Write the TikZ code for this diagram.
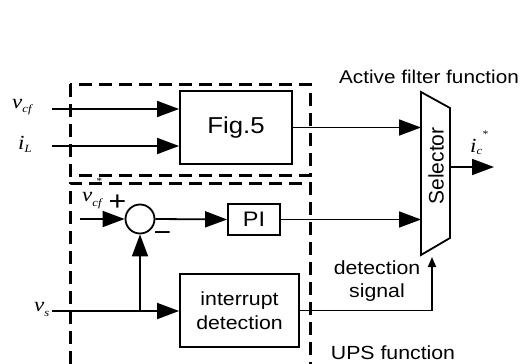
\documentclass[tikz,border=0pt]{standalone}
\usepackage{fontspec}
\setmainfont{Liberation Sans}
\newfontfamily\lblsans{Liberation Sans}[FakeStretch=1.12]
\newfontfamily\lblserif{Liberation Serif}[FakeStretch=1.15]
\usetikzlibrary{arrows.meta}

\tikzset{
  wire/.style={line width=1.8pt},
  feed/.style={wire,-{Triangle[length=22pt,width=16pt]}},
  smallfeed/.style={wire,-{Triangle[length=10pt,width=8pt]}},
  blk/.style={draw,line width=1.8pt,inner sep=0pt,font=\lblsans\fontsize{21}{25}\selectfont,align=center},
  zone/.style={line width=3pt,dash pattern=on 13pt off 7pt},
  txt/.style={inner sep=0pt,align=center,font=\lblsans\fontsize{19}{23}\selectfont},
  sym/.style={inner sep=0pt,anchor=base west,font=\lblserif\itshape\fontsize{20}{20}\selectfont},
  sign/.style={inner sep=0pt,font=\lblsans\fontsize{27}{27}\selectfont},
}
\newcommand{\lowsub}[2]{\raisebox{#1}{\fontsize{11}{11}\selectfont #2}}

\begin{document}
\begin{tikzpicture}[x=1pt,y=-1pt]
\useasboundingbox (0,0) rectangle (520,364);

% dashed function zones
\draw[zone] (70,84) rectangle (310,175);
\draw[zone] (70,364) -- (70,183) -- (310,183) -- (310,364);

% blocks
\node[blk,minimum width=112pt,minimum height=73pt] (fig5) at (236,127.5) {\fontsize{23}{23}\selectfont Fig.5};
\node[blk,minimum width=52pt,minimum height=31pt] (pi) at (254,219.5) {PI};
\node[blk,circle,minimum size=29pt] (sum) at (140,219) {};
\node[blk,minimum width=119pt,minimum height=73pt,font=\lblsans\fontsize{19}{24}\selectfont] (intr) at (239.5,310.5) {interrupt\\detection};

% selector (trapezoid)
\coordinate (s1) at (421,92);
\coordinate (s2) at (450,108);
\coordinate (s3) at (450,238);
\coordinate (s4) at (421,255);
\draw[wire,line join=miter] (s1) -- (s2) -- (s3) -- (s4) -- cycle;
\node[inner sep=0pt,rotate=90,font=\fontsize{21}{21}\selectfont] (sel) at (436,166) {Selector};

% signal inputs
\coordinate (vcfin) at (52,109);
\coordinate (ilin) at (52,146);
\coordinate (refin) at (80,219);
\coordinate (vsin) at (52,311);
\coordinate (tap) at (140,311);
\coordinate (selout) at (450,167);
\coordinate (icend) at (494,167);
\coordinate (dettip) at (432,257);

% connectors
\draw[feed] (vcfin) -- (vcfin -| fig5.west);
\draw[feed] (ilin) -- (ilin -| fig5.west);
\draw[feed] (fig5.east) -- (fig5.east -| s1);
\draw[feed] (selout) -- (icend);
\draw[feed] (refin) -- (sum.west);
\draw[feed] (sum.east) -- (pi.west);
\draw[feed] (pi.east) -- (pi.east -| s1);
\draw[feed] (vsin) -- (vsin -| intr.west);
\draw[feed] (tap) -- (sum.south);
\draw[smallfeed] (intr.east) -- (intr.east -| dettip) -- (dettip);

% signal names
\node[sym] (lvcf) at (12,108) {v\lowsub{-4pt}{cf}};
\node[sym] (lil) at (18,149) {i\lowsub{-3pt}{L}};
\node[sym] (lvref) at (82,201) {v\lowsub{-5pt}{cf}\llap{\raisebox{17pt}{\fontsize{10}{10}\selectfont *}}};
\node[sym] (lvs) at (34,311) {v\lowsub{-5pt}{s}};
\node[sym] (lic) at (470,152) {i\lowsub{-2pt}{c}\raisebox{15pt}{\fontsize{10}{10}\selectfont *}};

% summing junction signs
\node[sign] (plus) at (117.5,202.5) {+};
\node[sign] (minus) at (162.5,237) {−};

% captions
\node[txt,font=\lblsans\fontsize{18.5}{23}\selectfont] (aff) at (429,77) {Active filter function};
\node[txt] (dsig) at (377,281) {detection\\signal};
\node[txt] (ups) at (393,353) {UPS function};
\end{tikzpicture}
\end{document}
